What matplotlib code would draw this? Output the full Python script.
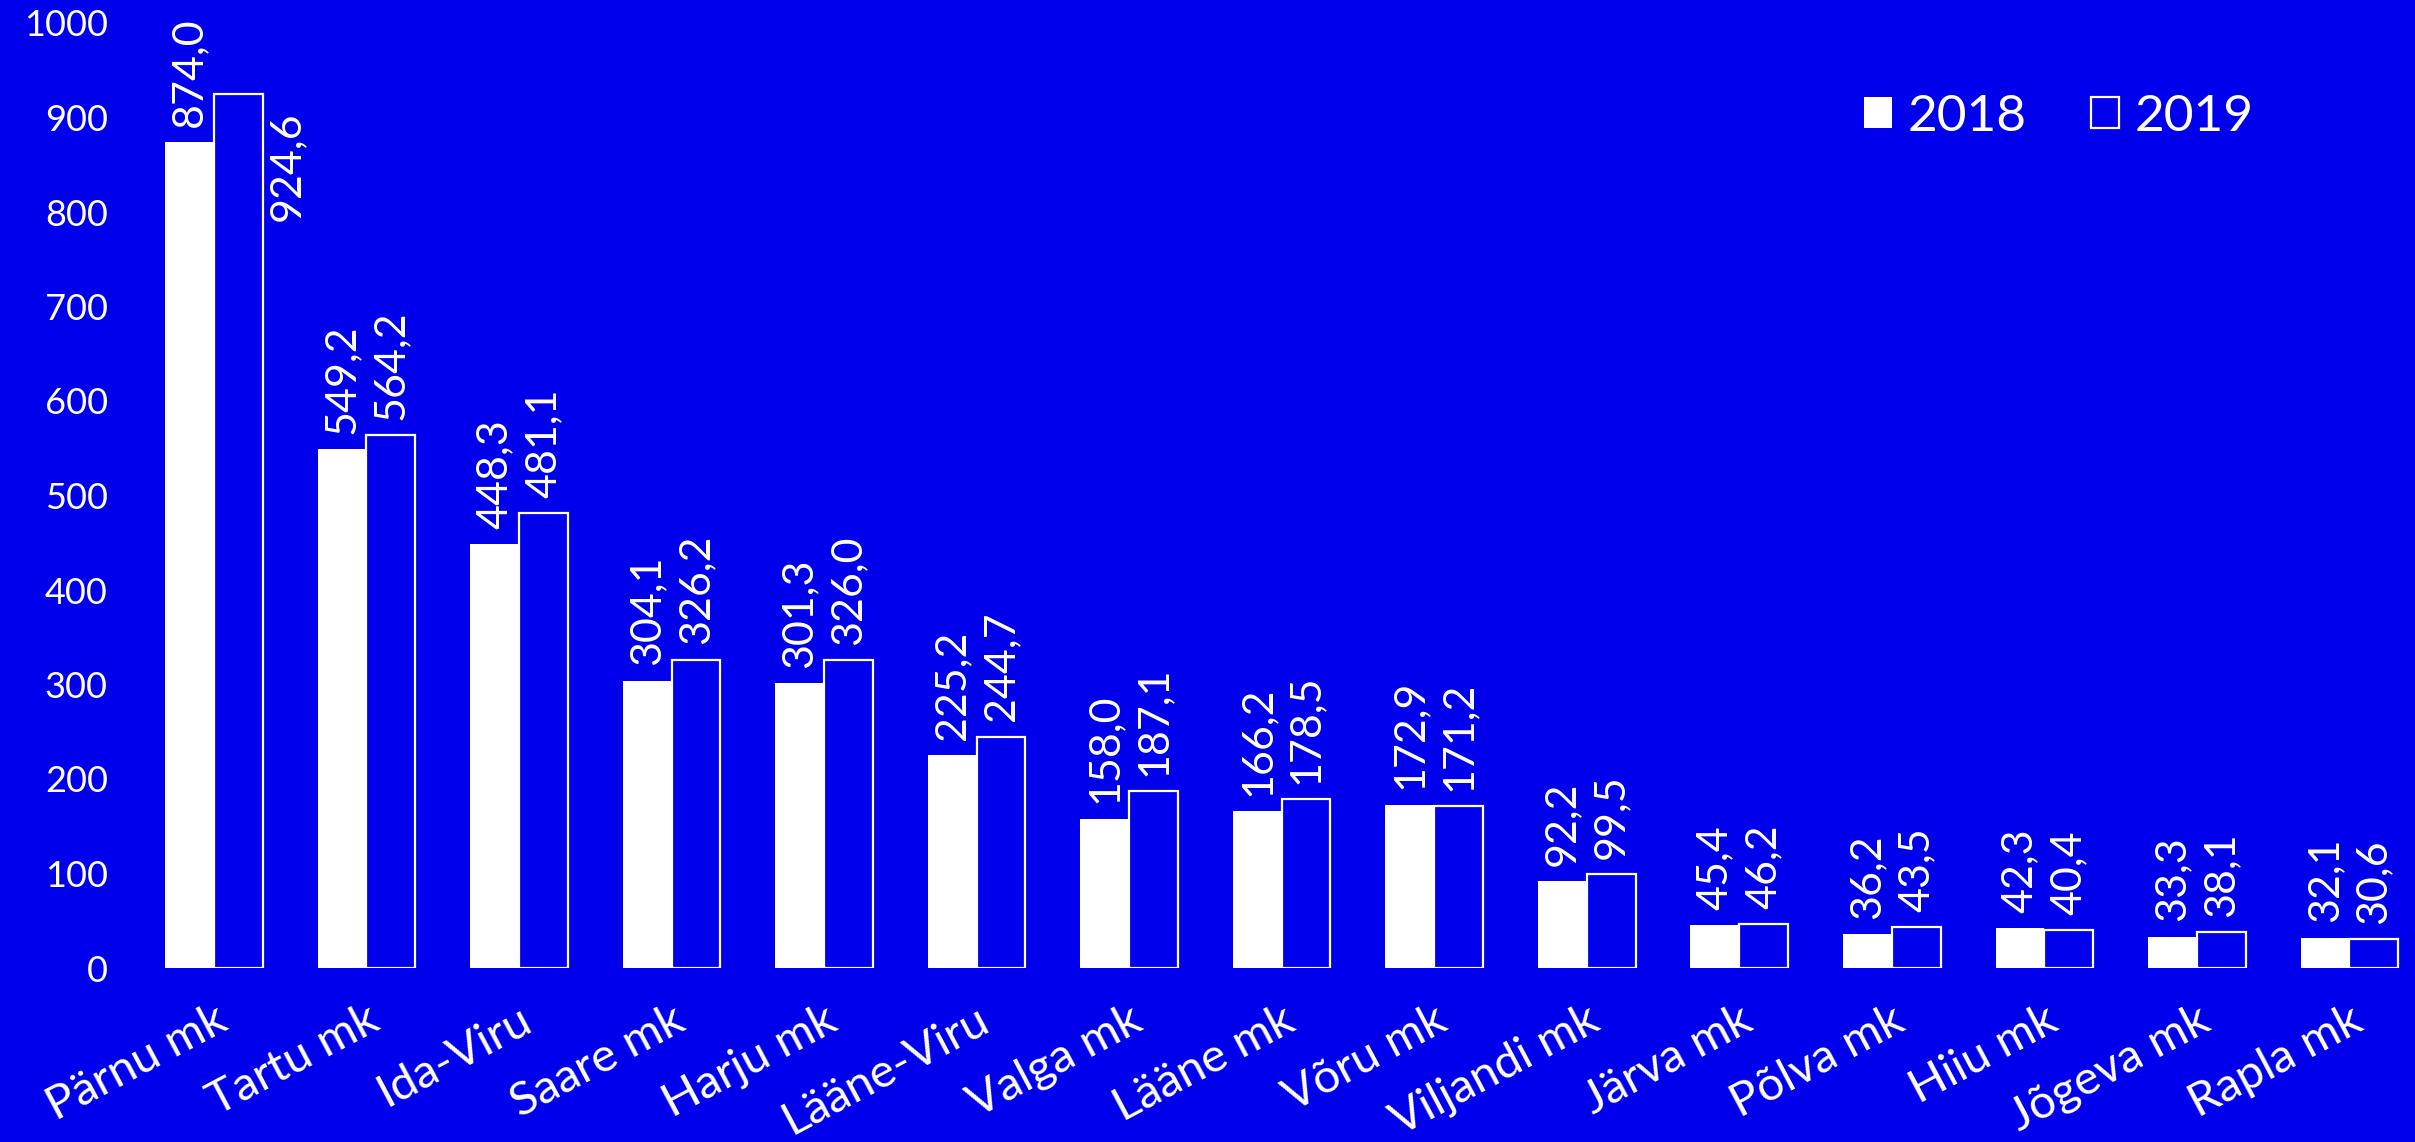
import matplotlib
matplotlib.use("Agg")
import matplotlib.pyplot as plt
from matplotlib.patches import Patch
import numpy as np

categories = ["Pärnu mk", "Tartu mk", "Ida-Viru", "Saare mk", "Harju mk", "Lääne-Viru",
              "Valga mk", "Lääne mk", "Võru mk", "Viljandi mk", "Järva mk", "Põlva mk",
              "Hiiu mk", "Jõgeva mk", "Rapla mk"]
values_2018 = [874.0, 549.2, 448.3, 304.1, 301.3, 225.2, 158.0, 166.2, 172.9, 92.2,
               45.4, 36.2, 42.3, 33.3, 32.1]
values_2019 = [924.6, 564.2, 481.1, 326.2, 326.0, 244.7, 187.1, 178.5, 171.2, 99.5,
               46.2, 43.5, 40.4, 38.1, 30.6]
series_labels = ["2018", "2019"]
y_ticks = [0, 100, 200, 300, 400, 500, 600, 700, 800, 900, 1000]

BG = "#0000EC"
FG = "white"
plt.rcParams["font.family"] = ["Lato", "DejaVu Sans"]

W, H = 2415, 1142
fig = plt.figure(figsize=(W / 100, H / 100), dpi=100, facecolor=BG)
left_px, right_px = 130, 2415
bottom_px, top_px = 968, 23
ax = fig.add_axes([left_px / W, (H - bottom_px) / H, (right_px - left_px) / W,
                   (bottom_px - top_px) / H])
ax.set_facecolor(BG)

x = np.arange(len(categories))
bw = 0.32
ax.bar(x - bw / 2, values_2018, width=bw, color=FG, edgecolor=FG, linewidth=0)
ax.bar(x + bw / 2, values_2019, width=bw, color=BG, edgecolor=FG, linewidth=1.6)

ax.set_xlim(-0.55, 14.43)
ax.set_ylim(0, 1000)

for s in ax.spines.values():
    s.set_visible(False)

ax.set_yticks(y_ticks)
ax.set_yticklabels([str(t) for t in y_ticks], fontsize=26, color=FG)
ax.tick_params(axis="y", length=0, pad=16)

ax.set_xticks(x)
ax.set_xticklabels(categories, fontsize=34, color=FG, rotation=28,
                   ha="right", va="top", rotation_mode="anchor")
ax.tick_params(axis="x", length=0, pad=22)

def fmt(v):
    return f"{v:.1f}".replace(".", ",")

for i, v in enumerate(values_2018):
    ax.annotate(fmt(v), (x[i] - bw / 2, v), xytext=(0, 11), textcoords="offset points",
                rotation=90, ha="center", va="bottom", fontsize=31, color=FG)
for i, v in enumerate(values_2019):
    if v > 900:
        ax.annotate(fmt(v), (x[i] + bw, v), xytext=(4, -12), textcoords="offset points",
                    rotation=90, ha="left", va="top", fontsize=31, color=FG)
    else:
        ax.annotate(fmt(v), (x[i] + bw / 2, v), xytext=(0, 11), textcoords="offset points",
                    rotation=90, ha="center", va="bottom", fontsize=31, color=FG)

handles = [Patch(facecolor=FG, edgecolor=FG, linewidth=0),
           Patch(facecolor=BG, edgecolor=FG, linewidth=1.6)]
fig.legend(handles, series_labels, loc="center right",
           bbox_to_anchor=(2254 / W, 1 - 117 / H), ncol=2, frameon=False,
           fontsize=37, labelcolor=FG, handlelength=0.55, handleheight=0.55,
           handletextpad=0.3, columnspacing=1.25, borderpad=0, borderaxespad=0)

fig.savefig("out.png", dpi=100, facecolor=BG)
